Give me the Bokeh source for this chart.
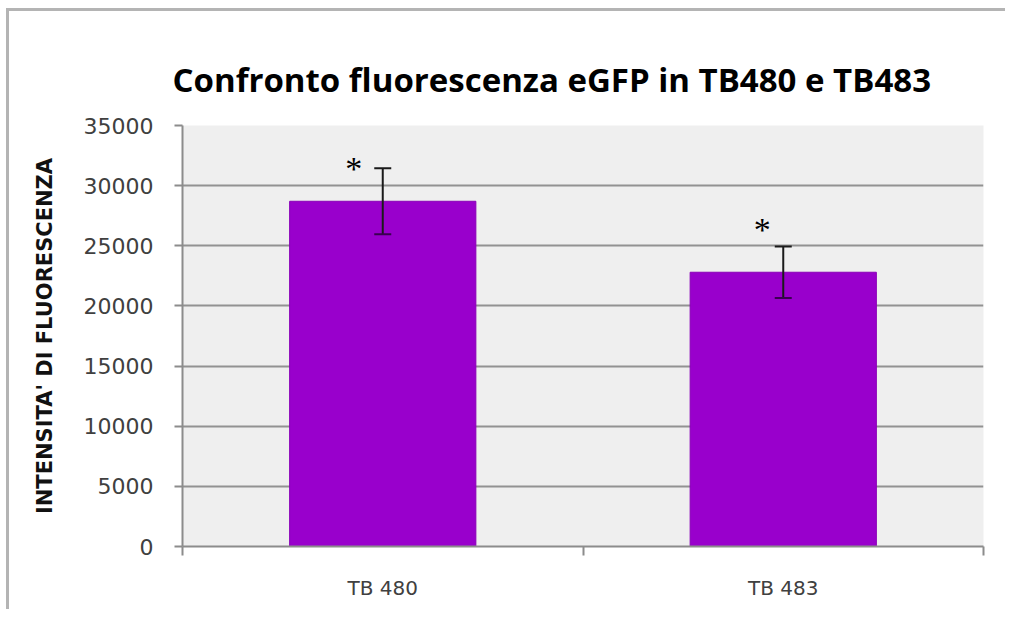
from bokeh.plotting import figure
from bokeh.models import ColumnDataSource, Whisker, FixedTicker, TeeHead, Range1d, Title
from bokeh.core.properties import value
from bokeh.embed import file_html
from bokeh.resources import INLINE

# ---- data ----
categories = ["TB 480", "TB 483"]
means = [28700, 22800]
errors = [2750, 2150]
sig_marks = ["*", "*"]
y_ticks = [0, 5000, 10000, 15000, 20000, 25000, 30000, 35000]

title_text = "Confronto fluorescenza eGFP in TB480 e TB483"
y_label = "INTENSITA' DI FLUORESCENZA"

# ---- style: screen offsets of the significance marks ----
mark_dx = [-29, -21]
mark_dy = [19, 2]

# ---- derived ----
xpos = [i + 0.5 for i in range(len(categories))]
src = ColumnDataSource(dict(
    x=xpos, top=means,
    lower=[m - e for m, e in zip(means, errors)],
    upper=[m + e for m, e in zip(means, errors)],
    mark=sig_marks, dx=mark_dx, dy=mark_dy,
))

W, H = 999, 601
p = figure(width=W, height=H, output_backend="svg", toolbar_location=None,
           x_range=Range1d(0, len(categories)), y_range=Range1d(0, 35000),
           min_border_left=173, min_border_right=25, min_border_top=114,
           min_border_bottom=66)
p.styles = {"border-top": "3px solid #b4b4b4", "border-left": "3px solid #b4b4b4",
            "margin-left": "6px", "margin-top": "8px"}

t = Title(text=title_text, align="left", vertical_align="middle",
          text_font="Open Sans", text_font_style="bold", text_font_size="33px",
          text_color="#000000", standoff=46, offset=-10)
p.add_layout(t, "above")
p.title.visible = False

p.background_fill_color = "#efefef"
p.border_fill_color = "#ffffff"
p.outline_line_color = None

# bars
p.vbar(x="x", top="top", width=0.465, bottom=0, source=src,
       fill_color="#9900cc", line_color="#8a00b8", line_width=1)

# error bars
w = Whisker(base="x", lower="lower", upper="upper", source=src,
            line_color="#1a1a1a", line_width=2, level="overlay",
            upper_head=TeeHead(size=17, line_color="#1a1a1a", line_width=2),
            lower_head=TeeHead(size=17, line_color="#3a0050", line_width=2))
p.add_layout(w)

# significance marks (placed just above/left of error bar top)
p.text(x="x", y="upper", text="mark", source=src, x_offset="dx", y_offset="dy",
       text_font=value("Liberation Serif"), text_font_size="34px",
       text_align="center", text_baseline="bottom", text_color="#000000")

# grid
p.xgrid.visible = False
p.ygrid.ticker = FixedTicker(ticks=y_ticks)
p.ygrid.grid_line_color = "#929292"
p.ygrid.grid_line_width = 2

# y axis
p.yaxis.ticker = FixedTicker(ticks=y_ticks)
p.yaxis.axis_line_color = "#8c8c8c"
p.yaxis.axis_line_width = 2
p.yaxis.major_tick_line_color = "#8c8c8c"
p.yaxis.major_tick_line_width = 2
p.yaxis.major_tick_out = 8
p.yaxis.major_tick_in = 0
p.yaxis.minor_tick_line_color = None
p.yaxis.major_label_text_font = "DejaVu Sans"
p.yaxis.major_label_text_font_size = "22px"
p.yaxis.major_label_text_color = "#404040"
p.yaxis.major_label_standoff = 21
p.yaxis.axis_label = y_label
p.yaxis.axis_label_text_font = "DejaVu Sans"
p.yaxis.axis_label_text_font_style = "bold"
p.yaxis.axis_label_text_font_size = "21px"
p.yaxis.axis_label_text_color = "#111111"
p.yaxis.axis_label_standoff = 24

# x axis
p.xaxis.ticker = FixedTicker(ticks=xpos, minor_ticks=list(range(len(categories) + 1)))
p.xaxis.major_label_overrides = {x: c for x, c in zip(xpos, categories)}
p.xaxis.axis_line_color = "#8c8c8c"
p.xaxis.axis_line_width = 2
p.xaxis.major_tick_line_color = None
p.xaxis.minor_tick_line_color = "#8c8c8c"
p.xaxis.minor_tick_line_width = 2
p.xaxis.minor_tick_out = 9
p.xaxis.minor_tick_in = 0
p.xaxis.major_label_text_font = "DejaVu Sans"
p.xaxis.major_label_text_font_size = "20px"
p.xaxis.major_label_text_color = "#404040"
p.xaxis.major_label_standoff = 20

open("out.html", "w").write(file_html(p, INLINE))
